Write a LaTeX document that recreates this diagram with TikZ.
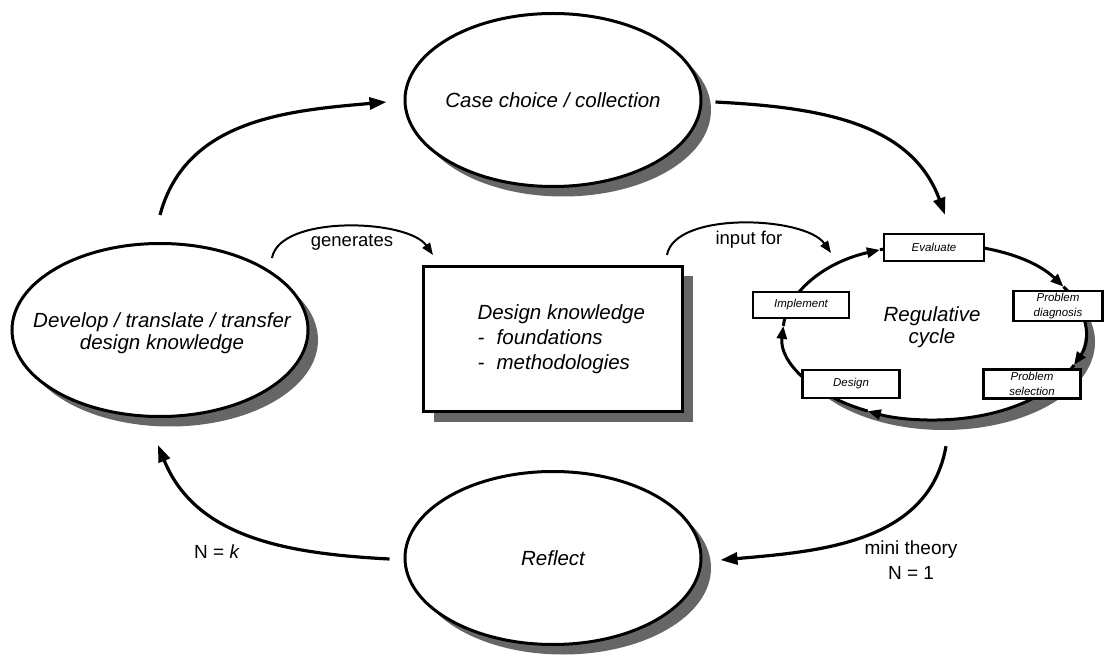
\documentclass[tikz,border=0pt]{standalone}
\usepackage{fontspec}
\setmainfont{Liberation Sans}
\usetikzlibrary{shapes.geometric,shadows,arrows.meta,calc}
\begin{document}
\begin{tikzpicture}[x=1pt,y=1pt,
  bigtxt/.style={font=\fontsize{20.5pt}{22pt}\selectfont\itshape, align=center},
  lbl/.style={font=\fontsize{19pt}{25pt}\selectfont, align=center},
  shad/.style={drop shadow={shadow xshift=10pt, shadow yshift=-10pt, fill=black!60, opacity=1}},
  oval/.style={ellipse, draw, line width=3pt, fill=white, minimum width=296pt, minimum height=173pt, inner sep=0pt, shad},
  smallbox/.style={rectangle, draw, line width=2.6pt, fill=white, inner sep=1pt, align=center, font=\fontsize{11.5pt}{14.5pt}\selectfont\itshape},
  bigarrow/.style={line width=3.2pt, -{Triangle[length=17pt,width=12pt]}},
  smallarrow/.style={line width=2pt, -{Triangle[length=12pt,width=9pt]}},
  cycarrow/.style={line width=3pt, -{Triangle[length=13pt,width=10pt]}}
]
\useasboundingbox (0,0) rectangle (1106,657);
\fill[white] (0,0) rectangle (1106,657);

% main ovals
\node[oval] (case) at (553,557) {};
\node[bigtxt] (casetext) at (case.center) {Case choice / collection};
\node[oval] (dev) at (160,327) {};
\node[bigtxt] (devtext) at (162,323.5) {Develop / translate / transfer\\design knowledge};
\node[oval] (refl) at (553,99) {};
\node[bigtxt] (refltext) at (refl.center) {Reflect};

% design knowledge box
\node[rectangle, draw, line width=3pt, fill=white, minimum width=259pt, minimum height=145pt, shad] (dk) at (553,318) {};
\node[anchor=west, align=left, font=\fontsize{20.5pt}{25pt}\selectfont\itshape] (dktext) at (474,318)
  {Design knowledge\\-\hspace{0.6em}foundations\\-\hspace{0.6em}methodologies};

% regulative cycle
\node[ellipse, fill=white, minimum width=302pt, minimum height=176pt, shad] (reg) at (934,325) {};
\node[bigtxt] (regtext) at (932,329.5) {Regulative\\cycle};
\draw[cycarrow] (reg.center) ++(176:151pt and 88pt) arc[start angle=176, end angle=111, x radius=151pt, y radius=88pt];
\draw[cycarrow] (reg.center) ++(111:151pt and 88pt) arc[start angle=111, end angle=31, x radius=151pt, y radius=88pt];
\draw[cycarrow] (reg.center) ++(31:151pt and 88pt) arc[start angle=31, end angle=-22, x radius=151pt, y radius=88pt];
\draw[cycarrow] (reg.center) ++(-22:151pt and 88pt) arc[start angle=-22, end angle=-116, x radius=151pt, y radius=88pt];
\draw[cycarrow] (reg.center) ++(-116:151pt and 88pt) arc[start angle=-116, end angle=-184, x radius=151pt, y radius=88pt];

\node[smallbox, minimum width=100pt, minimum height=27pt] (eval) at (934,409.5) {Evaluate};
\node[smallbox, minimum width=96pt, minimum height=26pt] (impl) at (801,352) {Implement};
\node[smallbox, minimum width=89pt, minimum height=30pt] (diag) at (1058,351) {Problem\\diagnosis};
\node[smallbox, minimum width=97pt, minimum height=28pt] (des) at (851,273) {Design};
\node[smallbox, minimum width=97pt, minimum height=29pt] (sel) at (1032,273) {Problem\\selection};

% connector end points
\coordinate (devtop) at ([yshift=27pt]dev.north);
\coordinate (casein) at ([xshift=-17pt,yshift=-2pt]case.west);
\coordinate (caseout) at ([xshift=13pt,yshift=-2pt]case.east);
\coordinate (regin) at ([xshift=11pt,yshift=29pt]reg.north);
\coordinate (regout) at ([xshift=12pt,yshift=-26pt]reg.south);
\coordinate (reflin) at ([xshift=18pt,yshift=-2pt]refl.east);
\coordinate (reflout) at ([xshift=-14pt,yshift=-1pt]refl.west);
\coordinate (devin) at ([xshift=-2pt,yshift=-27pt]dev.south);
\coordinate (genA) at (272,399);
\coordinate (genB) at (433,402);
\coordinate (inA) at (667,402);
\coordinate (inB) at (831,404);

\draw[bigarrow] (devtop) to[out=75, in=185] (casein);
\draw[bigarrow] (caseout) to[out=-3, in=110] (regin);
\draw[bigarrow] (regout) to[out=-100, in=5] (reflin);
\draw[bigarrow] (reflout) to[out=177, in=-68] (devin);
\draw[smallarrow] (genA) to[out=80, in=125, looseness=0.7] (genB);
\draw[smallarrow] (inA) to[out=80, in=125, looseness=0.7] (inB);

% labels
\node[lbl, font=\fontsize{18.5pt}{23pt}\selectfont] (gen) at (352,415) {generates};
\node[lbl, font=\fontsize{18.5pt}{23pt}\selectfont] (inp) at (749,417) {input for};
\node[lbl] (nk) at (217,105) {N = \textit{k}};
\node[lbl] (mt) at (911,96.5) {mini theory\\N = 1};
\end{tikzpicture}
\end{document}
